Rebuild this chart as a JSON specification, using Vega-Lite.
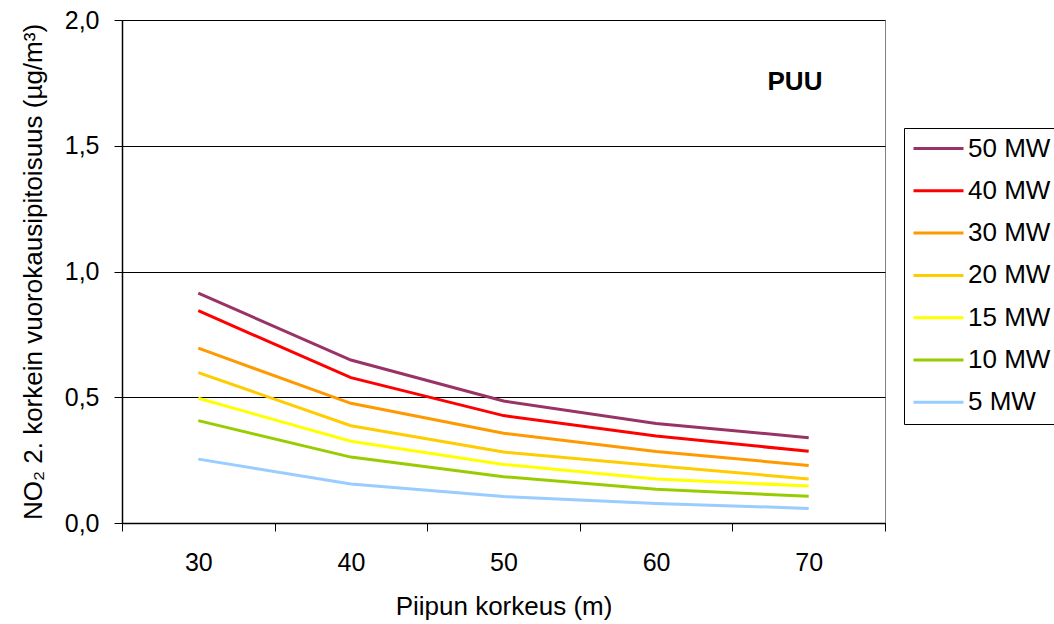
{
  "$schema": "https://vega.github.io/schema/vega-lite/v6.json",
  "autosize": "none",
  "width": 763,
  "height": 503,
  "padding": {"left": 122, "top": 20, "right": 169, "bottom": 101},
  "background": "white",
  "config": {
    "font": "Liberation Sans",
    "view": {"stroke": "#808080", "strokeWidth": 1},
    "axis": {
      "labelFont": "Liberation Sans",
      "titleFont": "Liberation Sans",
      "labelColor": "#000",
      "titleColor": "#000",
      "titleFontWeight": "normal",
      "domainColor": "#000",
      "tickColor": "#000",
      "gridColor": "#000",
      "gridOpacity": 1,
      "gridWidth": 1,
      "domainWidth": 1.5
    }
  },
  "layer": [
    {
      "data": {
        "values": [
          {"series": "50 MW", "height": "30", "value": 0.914},
          {"series": "50 MW", "height": "40", "value": 0.648},
          {"series": "50 MW", "height": "50", "value": 0.485},
          {"series": "50 MW", "height": "60", "value": 0.396},
          {"series": "50 MW", "height": "70", "value": 0.339},
          {"series": "40 MW", "height": "30", "value": 0.844},
          {"series": "40 MW", "height": "40", "value": 0.578},
          {"series": "40 MW", "height": "50", "value": 0.427},
          {"series": "40 MW", "height": "60", "value": 0.346},
          {"series": "40 MW", "height": "70", "value": 0.285},
          {"series": "30 MW", "height": "30", "value": 0.695},
          {"series": "30 MW", "height": "40", "value": 0.476},
          {"series": "30 MW", "height": "50", "value": 0.357},
          {"series": "30 MW", "height": "60", "value": 0.284},
          {"series": "30 MW", "height": "70", "value": 0.229},
          {"series": "20 MW", "height": "30", "value": 0.598},
          {"series": "20 MW", "height": "40", "value": 0.387},
          {"series": "20 MW", "height": "50", "value": 0.282},
          {"series": "20 MW", "height": "60", "value": 0.228},
          {"series": "20 MW", "height": "70", "value": 0.175},
          {"series": "15 MW", "height": "30", "value": 0.496},
          {"series": "15 MW", "height": "40", "value": 0.325},
          {"series": "15 MW", "height": "50", "value": 0.233},
          {"series": "15 MW", "height": "60", "value": 0.175},
          {"series": "15 MW", "height": "70", "value": 0.147},
          {"series": "10 MW", "height": "30", "value": 0.407},
          {"series": "10 MW", "height": "40", "value": 0.262},
          {"series": "10 MW", "height": "50", "value": 0.184},
          {"series": "10 MW", "height": "60", "value": 0.134},
          {"series": "10 MW", "height": "70", "value": 0.106},
          {"series": "5 MW", "height": "30", "value": 0.254},
          {"series": "5 MW", "height": "40", "value": 0.155},
          {"series": "5 MW", "height": "50", "value": 0.105},
          {"series": "5 MW", "height": "60", "value": 0.078},
          {"series": "5 MW", "height": "70", "value": 0.058}
        ]
      },
      "mark": {"type": "line", "strokeWidth": 3},
      "encoding": {
        "x": {
          "field": "height",
          "type": "ordinal",
          "bandPosition": 0.5,
          "scale": {"type": "band", "paddingInner": 0, "paddingOuter": 0},
          "axis": {
            "title": "Piipun korkeus (m)",
            "labelAngle": 0,
            "labelFontSize": 25,
            "titleFontSize": 26,
            "tickBand": "extent",
            "tickSize": 8,
            "labelPadding": 19,
            "titlePadding": 18,
            "grid": false
          }
        },
        "y": {
          "field": "value",
          "type": "quantitative",
          "scale": {"domain": [0, 2], "nice": false},
          "axis": {
            "title": "NO₂ 2. korkein vuorokausipitoisuus (µg/m³)",
            "values": [0, 0.5, 1, 1.5, 2],
            "labelExpr": "replace(format(datum.value, '.1f'), '.', ',')",
            "labelFontSize": 25,
            "titleFontSize": 26,
            "tickSize": 8,
            "labelPadding": 15,
            "titlePadding": 18,
            "grid": true
          }
        },
        "color": {
          "field": "series",
          "type": "nominal",
          "sort": null,
          "scale": {
            "domain": ["50 MW", "40 MW", "30 MW", "20 MW", "15 MW", "10 MW", "5 MW"],
            "range": ["#993366", "#FF0000", "#FF9900", "#FFCC00", "#FFFF00", "#99CC00", "#99CCFF"]
          },
          "legend": {
            "title": null,
            "orient": "none",
            "legendX": 782,
            "legendY": 108,
            "padding": 8,
            "strokeColor": "#000",
            "fillColor": "#fff",
            "symbolType": "stroke",
            "symbolSize": 2500,
            "symbolStrokeWidth": 3,
            "symbolOffset": 0,
            "labelOffset": 3,
            "labelFontSize": 26,
            "labelFont": "Liberation Sans",
            "labelColor": "#000",
            "labelLimit": 300,
            "clipHeight": 25,
            "rowPadding": 15.3
          }
        }
      }
    },
    {
      "data": {"values": [{"label": "PUU"}]},
      "mark": {"type": "text", "fontWeight": "bold", "fontSize": 26, "font": "Liberation Sans", "color": "#000", "baseline": "middle", "align": "center"},
      "encoding": {
        "text": {"field": "label", "type": "nominal"},
        "x": {"datum": "70", "type": "ordinal", "bandPosition": 0.41},
        "y": {"datum": 1.755, "type": "quantitative"}
      }
    }
  ]
}
